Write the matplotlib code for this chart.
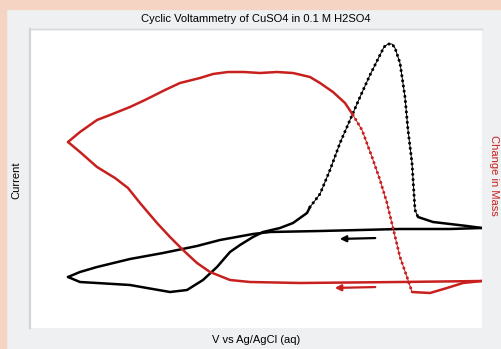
import matplotlib.pyplot as plt
from matplotlib.patches import Rectangle

plt.rcParams['font.family'] = ['Liberation Sans', 'DejaVu Sans']

# Current loop (uA) vs potential (V)
v_back = [0.83, 0.75, 0.625, 0.425, 0.3, 0.2575, 0.175, 0.1175, 0.0325, -0.05, -0.1325, -0.175, -0.205]
i_back = [50, 49, 49, 47, 46, 44, 38, 32, 25, 19, 11, 6, 1]
v_fwd = [-0.205, -0.175, -0.1325, -0.05, -0.0075, 0.05, 0.0925, 0.1325, 0.1675, 0.2, 0.225, 0.2575,
         0.2825, 0.325, 0.3575, 0.375, 0.3925, 0.4, 0.425, 0.45, 0.475, 0.5, 0.525, 0.55, 0.575,
         0.585, 0.595, 0.605, 0.6125, 0.625, 0.6375, 0.645, 0.655, 0.6625, 0.67, 0.6925, 0.7075,
         0.75, 0.7925, 0.83]
i_fwd = [1, -4, -5, -7, -10, -14, -12, -2, 11, 26, 33, 41, 46, 50, 55, 60, 65, 71, 84, 108, 135,
         158, 181, 203, 223, 231, 234, 234, 230, 215, 181, 148, 115, 68, 61, 58, 56, 54, 52, 50]

# Mass change (ug) vs potential (V)
v_mass_back = [0.83, 0.625, 0.375, 0.25, 0.2, 0.15, 0.1175, 0.0825, 0.05, 0.0175, -0.025, -0.055,
               -0.0875, -0.1325, -0.175, -0.205]
m_back = [-0.03, -0.04, -0.05, -0.04, -0.02, 0.06, 0.15, 0.28, 0.41, 0.55, 0.75, 0.90, 1.00,
          1.11, 1.26, 1.36]
v_mass_fwd = [-0.205, -0.175, -0.1325, -0.1, -0.05, -0.0125, 0.0375, 0.075, 0.125, 0.1575, 0.195,
              0.235, 0.275, 0.3175, 0.3575, 0.4, 0.425, 0.4575, 0.4875, 0.5075, 0.53, 0.555, 0.575,
              0.5925, 0.6075, 0.625, 0.6425, 0.655, 0.7, 0.7425, 0.7825, 0.83]
m_fwd = [1.36, 1.46, 1.58, 1.63, 1.71, 1.78, 1.88, 1.95, 2.00, 2.04, 2.06, 2.06, 2.05, 2.06, 2.05,
         2.01, 1.95, 1.86, 1.75, 1.63, 1.48, 1.21, 0.98, 0.75, 0.50, 0.21, 0.01, -0.14, -0.15,
         -0.10, -0.05, -0.03]

# sweep direction arrows (start, end)
arrow_current = [(0.57, 40), (0.4675, 39)]
arrow_mass = [(0.57, -0.09), (0.455, -0.10)]

red = '#c8201f'
dots = (0, (0.01, 1.7))


def draw_loop(a, x, y, k0, k1, color):
    # slow parts drawn solid, fast part thin with dots (sparse samples)
    a.plot(x[:k0 + 1], y[:k0 + 1], color=color, lw=1.8, solid_capstyle='round')
    a.plot(x[k0:k1 + 1], y[k0:k1 + 1], color=color, lw=0.7)
    a.plot(x[k0:k1 + 1], y[k0:k1 + 1], color=color, lw=2.2, linestyle=dots, dash_capstyle='round')
    a.plot(x[k1:], y[k1:], color=color, lw=1.8, solid_capstyle='round')


fig = plt.figure(figsize=(5.02, 3.49), dpi=100, facecolor='#eff0f2')
fig.patches.append(Rectangle((0, 0), 6 / 502, 1, transform=fig.transFigure, color='#f6d4c4', zorder=0))
fig.patches.append(Rectangle((0, 1 - 9 / 349), 1, 9 / 349, transform=fig.transFigure, color='#f6d4c4', zorder=0))

ax = fig.add_axes([30 / 502, 21 / 349, 452 / 502, 299 / 349])
ax2 = ax.twinx()

# current
ax.plot(v_back, i_back, color='black', lw=1.8, solid_capstyle='round')
draw_loop(ax, v_fwd, i_fwd, 17, 34, 'black')
ax.annotate('', xy=arrow_current[1], xytext=arrow_current[0],
            arrowprops=dict(arrowstyle='-|>', color='black', lw=1.6, mutation_scale=9))

# mass
ax2.plot(v_mass_back, m_back, color=red, lw=1.8, solid_capstyle='round')
draw_loop(ax2, v_mass_fwd, m_fwd, 19, 27, red)
ax2.annotate('', xy=arrow_mass[1], xytext=arrow_mass[0],
             arrowprops=dict(arrowstyle='-|>', color=red, lw=1.6, mutation_scale=9))

ax.set_xlim(-0.3, 0.83)
ax.set_ylim(-50, 249)
ax2.set_ylim(-0.5, 2.49)

for a in (ax, ax2):
    a.set_xticks([])
    a.set_yticks([])
    for s in ('right', 'bottom'):
        a.spines[s].set_visible(False)
    a.spines['left'].set_color('#d4d4d4')
    a.spines['left'].set_linewidth(1.5)
    a.spines['top'].set_color('#d8d8d8')
    a.spines['top'].set_linewidth(1)

fig.text(256 / 502, 1 - 19 / 349, 'Cyclic Voltammetry of CuSO4 in 0.1 M H2SO4',
         ha='center', va='center', fontsize=8)
fig.text(256 / 502, 1 - 340 / 349, 'V vs Ag/AgCl (aq)', ha='center', va='center', fontsize=8)
fig.text(16 / 502, 1 - 180 / 349, 'Current', ha='center', va='center', rotation=90, fontsize=8)
fig.text(494 / 502, 1 - 175 / 349, 'Change in Mass', ha='center', va='center', rotation=270,
         fontsize=8, color=red)

fig.savefig('out.png', dpi=100, facecolor=fig.get_facecolor())
